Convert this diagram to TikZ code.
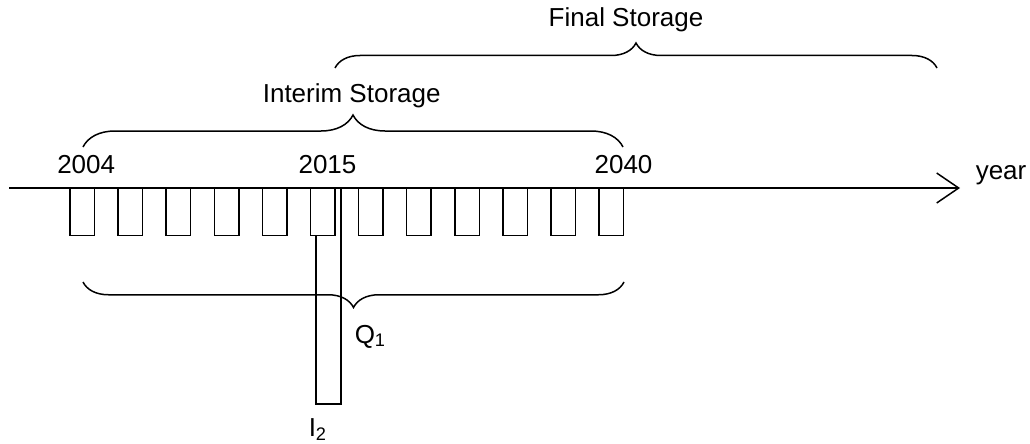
\documentclass[tikz,border=0pt]{standalone}
\usepackage{fontspec}
\setmainfont{Liberation Sans}
\usetikzlibrary{arrows.meta,decorations.pathreplacing}
\begin{document}
\begin{tikzpicture}[x=1pt,y=-1pt, line width=1.5pt,
  lbl/.style={font=\fontsize{26}{30}\selectfont, inner sep=0pt, anchor=base},
  slot/.style={draw, fill=white, minimum width=24.5pt, minimum height=47.5pt, inner sep=0pt, outer sep=0pt, anchor=north west},
  tallslot/.style={draw, minimum width=25pt, minimum height=216pt, inner sep=0pt, outer sep=0pt, anchor=north west},
  bracedec/.style={decorate, decoration={brace, amplitude=#1}},
]
\useasboundingbox (0,0) rectangle (1030,444);
% tall rectangle
\node[tallslot] (tall) at (316,188) {};
% yearly slots
\foreach \i in {0,...,11} \node[slot] (b\i) at ({70+48.1*\i},188) {};
% axis
\coordinate (ax0) at (9,188);
\coordinate (ax1) at (960,188);
\draw[-{Straight Barb[length=22pt,width=30pt]}] (ax0) -- (ax1);
% braces
\coordinate (fs1) at (335,68);
\coordinate (fs2) at (937,68);
\draw[bracedec=25pt] (fs1) -- (fs2);
\coordinate (is1) at (83,147);
\coordinate (is2) at (623,147);
\draw[bracedec=32pt] (is1) -- (is2);
\coordinate (lq1) at (624,282);
\coordinate (lq2) at (83,282);
\draw[bracedec=25.5pt] (lq1) -- (lq2);
% labels
\node[lbl] (tfs) at (626,27) {Final Storage};
\node[lbl] (tis) at (351.7,102.3) {Interim Storage};
\node[lbl] (y04) at (86.2,173.3) {2004};
\node[lbl] (y15) at (327.5,173.3) {2015};
\node[lbl] (y40) at (623.5,173.3) {2040};
\node[lbl, anchor=base west] (tyr) at (975,179) {year};
\node[lbl, anchor=base west] (tq) at (354,343) {Q\textsubscript{1}};
\node[lbl, anchor=base west] (ti) at (308,436) {I\textsubscript{2}};
\end{tikzpicture}
\end{document}
